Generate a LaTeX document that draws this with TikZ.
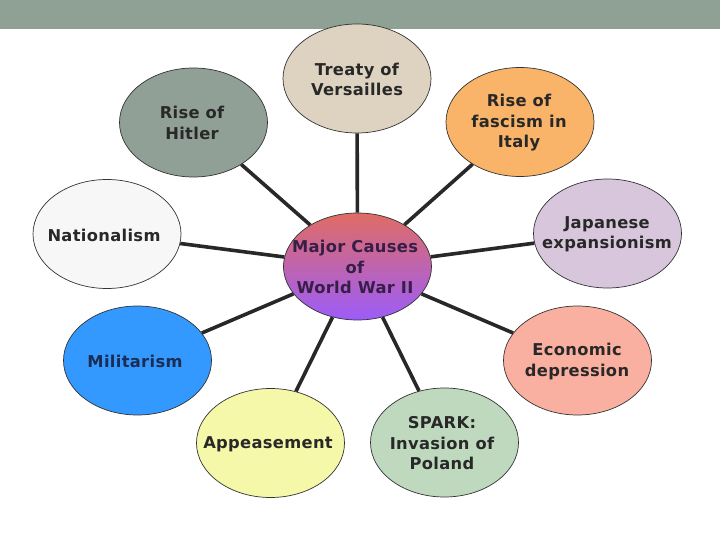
\documentclass[tikz,border=0pt]{standalone}
\usepackage{fontspec}
\setmainfont{DejaVu Sans}[LetterSpace=2]
\usetikzlibrary{shapes.geometric}
\definecolor{bandc}{RGB}{143,160,149}
\definecolor{tvc}{RGB}{221,211,192}
\definecolor{rhc}{RGB}{145,160,151}
\definecolor{rfc}{RGB}{250,180,105}
\definecolor{nac}{RGB}{247,247,247}
\definecolor{jec}{RGB}{216,198,220}
\definecolor{mitc}{RGB}{224,108,100}
\definecolor{mibc}{RGB}{156,92,250}
\definecolor{mic}{RGB}{51,153,255}
\definecolor{edc}{RGB}{250,176,160}
\definecolor{apc}{RGB}{245,248,168}
\definecolor{spc}{RGB}{190,217,190}
\definecolor{linec}{RGB}{40,40,40}
\definecolor{txtc}{RGB}{40,40,40}
\definecolor{mctxt}{RGB}{55,30,70}
\definecolor{mitxt}{RGB}{25,45,85}
\tikzset{
  causeshape/.style={ellipse, draw=black!80, line width=0.7pt, minimum width=148pt, minimum height=109pt, inner sep=0pt},
  causetext/.style={align=center, text=txtc, font=\bfseries\fontsize{16.3}{20.5}\selectfont, inner sep=0pt},
  link/.style={draw=linec, line width=3.6pt}
}
\begin{document}
\begin{tikzpicture}[x=1pt,y=-1pt]
\useasboundingbox (0,0) rectangle (720,540);
\fill[white] (0,0) rectangle (720,540);
\fill[bandc] (0,0) rectangle (720,29);
% ellipses
\node[causeshape, fill=tvc] (tv) at (357,78.5) {};
\node[causeshape, fill=rhc] (rh) at (193.5,122.5) {};
\node[causeshape, fill=rfc] (rf) at (520,122) {};
\node[causeshape, fill=nac] (na) at (107,234) {};
\node[causeshape, fill=jec] (je) at (607.5,233.5) {};
\node[causeshape, top color=mitc, bottom color=mibc, minimum height=107pt] (mc) at (357.5,266.5) {};
\node[causeshape, fill=mic] (mi) at (137.5,360.5) {};
\node[causeshape, fill=edc] (ed) at (577.5,360.5) {};
\node[causeshape, fill=apc] (ap) at (270.5,443) {};
\node[causeshape, fill=spc] (sp) at (444.5,442.5) {};
% connectors
\foreach \n in {tv,rh,rf,na,je,mi,ed,ap,sp} \draw[link] (mc) -- (\n);
% labels
\node[causetext] (tvt) at (357,79.5) {Treaty of\\Versailles};
\node[causetext] (rht) at (192,123) {Rise of\\Hitler};
\node[causetext] (rft) at (519,123) {Rise of\\fascism in\\Italy};
\node[causetext] (nat) at (104,235) {Nationalism};
\node[causetext] (jet) at (607,234.5) {Japanese\\expansionism};
\node[causetext, text=mctxt] (mct) at (355,267) {Major Causes\\of\\World War II};
\node[causetext, text=mitxt] (mit) at (135,361) {Militarism};
\node[causetext] (edt) at (577,361.5) {Economic\\depression};
\node[causetext] (apt) at (268,444) {Appeasement};
\node[causetext] (spt) at (442,443.5) {SPARK:\\Invasion of\\Poland};
\end{tikzpicture}
\end{document}
